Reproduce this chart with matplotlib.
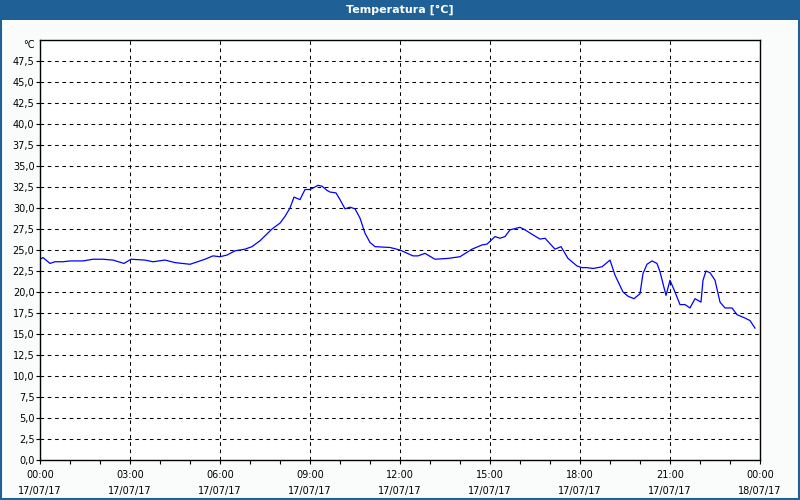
import matplotlib
matplotlib.use("Agg")
import matplotlib.pyplot as plt
from matplotlib.patches import Rectangle
from matplotlib.ticker import MultipleLocator
import matplotlib.transforms as mtransforms

# ===================================================================
# Data
# ===================================================================
# minutes since 00:00 17/07/17
minutes = [0, 6, 20, 30, 46, 60, 86, 106, 126, 146, 168, 182, 210, 226, 250, 270,
           300, 330, 346, 360, 374, 390, 410, 424, 440, 464, 480, 490, 500, 508,
           520, 530, 540, 550, 556, 564, 574, 580, 592, 600, 610, 620, 630, 640,
           650, 660, 670, 700, 720, 746, 756, 770, 790, 816, 840, 864, 884, 894,
           910, 920, 930, 940, 960, 970, 986, 1000, 1010, 1030, 1042, 1056, 1074,
           1084, 1094, 1106, 1124, 1140, 1150, 1166, 1176, 1188, 1200, 1206, 1214,
           1224, 1234, 1240, 1252, 1260, 1270, 1280, 1290, 1300, 1310, 1322, 1326,
           1332, 1340, 1350, 1360, 1370, 1384, 1394, 1410, 1420, 1430]
temps = [23.9, 24.1, 23.4, 23.6, 23.6, 23.7, 23.7, 23.9, 23.9, 23.8, 23.4, 23.9,
         23.8, 23.6, 23.8, 23.5, 23.3, 23.9, 24.3, 24.2, 24.4, 24.9, 25.1, 25.4,
         26.1, 27.5, 28.2, 29.0, 30.0, 31.3, 31.0, 32.2, 32.2, 32.5, 32.7, 32.6,
         32.1, 31.9, 31.8, 31.0, 29.9, 30.1, 29.9, 28.8, 27.0, 25.9, 25.4, 25.3,
         25.0, 24.3, 24.3, 24.6, 23.9, 24.0, 24.2, 25.1, 25.6, 25.7, 26.6, 26.4,
         26.6, 27.4, 27.7, 27.4, 26.8, 26.3, 26.4, 25.1, 25.4, 24.0, 23.1, 22.9,
         22.9, 22.8, 23.0, 23.8, 22.0, 20.0, 19.5, 19.2, 19.8, 22.2, 23.3, 23.7,
         23.4, 22.4, 19.6, 21.4, 20.0, 18.5, 18.5, 18.1, 19.2, 18.8, 21.4, 22.5,
         22.3, 21.4, 18.8, 18.1, 18.1, 17.3, 16.9, 16.6, 15.7]

x_ticks = [0, 3, 6, 9, 12, 15, 18, 21, 24]
x_labels = ["00:00\n17/07/17", "03:00\n17/07/17", "06:00\n17/07/17",
            "09:00\n17/07/17", "12:00\n17/07/17", "15:00\n17/07/17",
            "18:00\n17/07/17", "21:00\n17/07/17", "00:00\n18/07/17"]
y_ticks = [i * 2.5 for i in range(20)]
y_labels = [("%.1f" % v).replace(".", ",") for v in y_ticks]

title = "Temperatura [°C]"
unit = "°C"

# ===================================================================
# Figure
# ===================================================================
blue = "#1f6096"
fig = plt.figure(figsize=(8, 5), dpi=100, facecolor="#fafcfb")
ax = fig.add_axes([0.05, 0.08, 0.9, 0.84])

# title bar + frame
fig.patches.append(Rectangle((0, 0.96), 1, 0.04, transform=fig.transFigure,
                             facecolor=blue, edgecolor="none", zorder=0))
fig.patches.append(Rectangle((0.001, 0.002), 0.998, 0.997, transform=fig.transFigure,
                             facecolor="none", edgecolor=blue, linewidth=1.5, zorder=5))
fig.text(0.5, 0.981, title, color="white", fontsize=8, fontweight="bold",
         ha="center", va="center")

hours = [m / 60 for m in minutes]
ax.plot(hours, temps, color="#0000ff", linewidth=0.9)

ax.set_xlim(0, 24)
ax.set_ylim(0, 50)
ax.set_xticks(x_ticks)
ax.set_xticklabels(x_labels, fontsize=7, linespacing=1.75)
ax.xaxis.set_minor_locator(MultipleLocator(1))
ax.set_yticks(y_ticks)
ax.set_yticklabels(y_labels, fontsize=7)
ax.tick_params(axis="x", which="both", direction="out", length=3, width=0.8, pad=4)
ax.tick_params(axis="y", direction="out", length=3, width=0.8, pad=1)

ax.grid(True, which="major", color="black", linestyle=(0, (3.5, 3.5)), linewidth=0.75)
for s in ax.spines.values():
    s.set_linewidth(1.0)

trans = mtransforms.blended_transform_factory(ax.transAxes, ax.transData)
ax.text(-0.007, 50, unit, transform=trans, fontsize=7, ha="right", va="top")

plt.savefig("out.png", dpi=100, facecolor=fig.get_facecolor())
